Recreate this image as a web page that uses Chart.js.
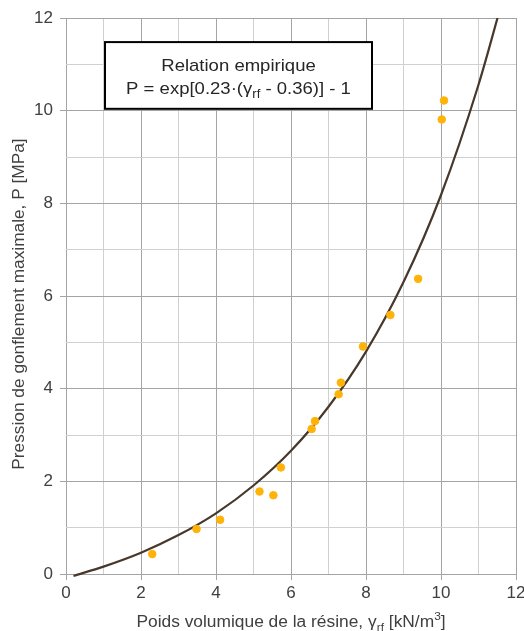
<!DOCTYPE html>
<html>
<head>
<meta charset="utf-8">
<script src="https://cdn.jsdelivr.net/npm/chart.js@4.4.1/dist/chart.umd.min.js"></script>
<style>
  html, body { margin: 0; padding: 0; background: #ffffff; }
  #wrap { width: 524px; height: 631px; }
</style>
</head>
<body>
<div id="wrap"><canvas id="c" width="524" height="631"></canvas></div>
<script>
// Measured specimens: resin unit weight (kN/m3) and maximum swelling pressure (MPa)
const gammaRf  = [2.30, 3.48, 4.11, 5.16, 5.53, 5.73, 6.55, 6.64, 7.27, 7.33, 7.92, 8.65, 9.39, 10.02, 10.08];
const pressure = [0.43, 0.97, 1.17, 1.78, 1.70, 2.30, 3.13, 3.30, 3.88, 4.13, 4.91, 5.59, 6.37, 9.81, 10.22];

// Empirical relation P = exp[0.23(γrf - 0.36)] - 1, tabulated
const curveGamma = [0.20, 1, 2, 3, 4, 5, 6, 7, 8, 9, 10, 11, 11.6];
const curveP     = [-0.04, 0.16, 0.46, 0.84, 1.31, 1.91, 2.66, 3.61, 4.80, 6.30, 8.18, 10.56, 12.27];

// Axis ranges and labelled ticks
const xRange = [0, 12];
const yRange = [0, 12];
const tickStep = 2;

const boxLine1 = 'Relation empirique';
const boxLine2 = [
  { t: 'P = exp[0.23·(' },
  { t: 'γ' },
  { t: 'rf', sub: true },
  { t: ' - 0.36)] - 1' }
];

const FONT = '"Liberation Sans", Arial, sans-serif';
const TEXT = '#404040';

const pts = gammaRf.map((x, i) => ({ x, y: pressure[i] }));
const curve = curveGamma.map((x, i) => ({ x, y: curveP[i] }));

// Draws a run of text pieces (with optional sub/superscripts), centred on cx,
// slightly widened horizontally by sx.
function drawRich(ctx, parts, cx, cy, size, sx) {
  const small = Math.round(size * 0.68);
  let w = 0;
  parts.forEach(p => {
    ctx.font = (p.sub || p.sup ? small : size) + 'px ' + FONT;
    p.w = ctx.measureText(p.t).width;
    w += p.w;
  });
  ctx.save();
  ctx.translate(cx, cy);
  ctx.scale(sx, 1);
  let x = -w / 2;
  ctx.textAlign = 'left';
  ctx.textBaseline = 'alphabetic';
  parts.forEach(p => {
    let dy = 0, s = size;
    if (p.sub) { s = small; dy = size * 0.22; }
    if (p.sup) { s = small; dy = -size * 0.42; }
    ctx.font = s + 'px ' + FONT;
    ctx.fillText(p.t, x, dy);
    x += p.w;
  });
  ctx.restore();
}

const decorPlugin = {
  id: 'decor',
  afterDraw(chart) {
    const ctx = chart.ctx;
    const xs = chart.scales.x, ys = chart.scales.y;
    const area = chart.chartArea;
    ctx.save();

    // Relation box
    const x0 = xs.getPixelForValue(1.04), x1 = xs.getPixelForValue(8.16);
    const y0 = ys.getPixelForValue(11.48), y1 = ys.getPixelForValue(10.04);
    ctx.fillStyle = '#ffffff';
    ctx.fillRect(x0, y0, x1 - x0, y1 - y0);
    ctx.strokeStyle = '#000000';
    ctx.lineWidth = 2;
    ctx.strokeRect(x0, y0, x1 - x0, y1 - y0);
    const cx = (x0 + x1) / 2;
    ctx.fillStyle = '#262626';
    drawRich(ctx, [{ t: boxLine1 }], cx, y0 + 29, 17, 1.09);
    drawRich(ctx, boxLine2, cx, y0 + 52, 17, 1.09);

    // Axis titles
    ctx.fillStyle = TEXT;
    drawRich(ctx, [
      { t: 'Poids volumique de la résine, γ' },
      { t: 'rf', sub: true },
      { t: ' [kN/m' },
      { t: '3', sup: true },
      { t: ']' }
    ], (area.left + area.right) / 2, 627, 16, 1.085);

    ctx.save();
    ctx.translate(24, (area.top + area.bottom) / 2 + 8);
    ctx.rotate(-Math.PI / 2);
    drawRich(ctx, [{ t: 'Pression de gonflement maximale, P [MPa]' }], 0, 0, 16, 1.08);
    ctx.restore();

    ctx.restore();
  }
};

const gridColor = ctx => (ctx.tick && ctx.tick.value % tickStep === 0) ? '#a4a4a4' : '#d0d0d0';
const tickColor = ctx => (ctx.tick && ctx.tick.value % tickStep === 0) ? '#a4a4a4' : 'rgba(0,0,0,0)';

new Chart(document.getElementById('c'), {
  type: 'scatter',
  data: {
    datasets: [
      {
        type: 'line',
        data: curve,
        borderColor: '#47382b',
        borderWidth: 2.2,
        pointRadius: 0,
        fill: false,
        cubicInterpolationMode: 'monotone',
        clip: { left: 0, top: 0, right: 0, bottom: 4 },
        order: 2
      },
      {
        data: pts,
        backgroundColor: '#ffb308',
        borderColor: '#ffb308',
        pointRadius: 3.8,
        pointHoverRadius: 3.8,
        order: 1
      }
    ]
  },
  options: {
    responsive: false,
    animation: false,
    events: [],
    layout: { padding: { left: 0, right: 8, top: 18, bottom: 0 } },
    plugins: { legend: { display: false }, tooltip: { enabled: false } },
    scales: {
      x: {
        type: 'linear',
        min: xRange[0], max: xRange[1],
        afterFit: s => { s.height = 57; s.paddingLeft = 0; s.paddingRight = 0; },
        border: { display: false },
        grid: { color: gridColor, tickColor: tickColor, tickLength: 6, lineWidth: 1 },
        ticks: {
          stepSize: 1,
          autoSkip: false,
          maxRotation: 0,
          padding: 3,
          color: TEXT,
          font: { family: FONT, size: 17 },
          callback: v => (v % tickStep === 0 ? String(v) : '')
        }
      },
      y: {
        type: 'linear',
        min: yRange[0], max: yRange[1],
        afterFit: s => { s.width = 66; s.paddingTop = 0; s.paddingBottom = 0; },
        border: { display: false },
        grid: { color: gridColor, tickColor: tickColor, tickLength: 6, lineWidth: 1 },
        ticks: {
          stepSize: 1,
          autoSkip: false,
          padding: 7,
          color: TEXT,
          font: { family: FONT, size: 17 },
          callback: v => (v % tickStep === 0 ? String(v) : '')
        }
      }
    }
  },
  plugins: [decorPlugin]
});
</script>
</body>
</html>
